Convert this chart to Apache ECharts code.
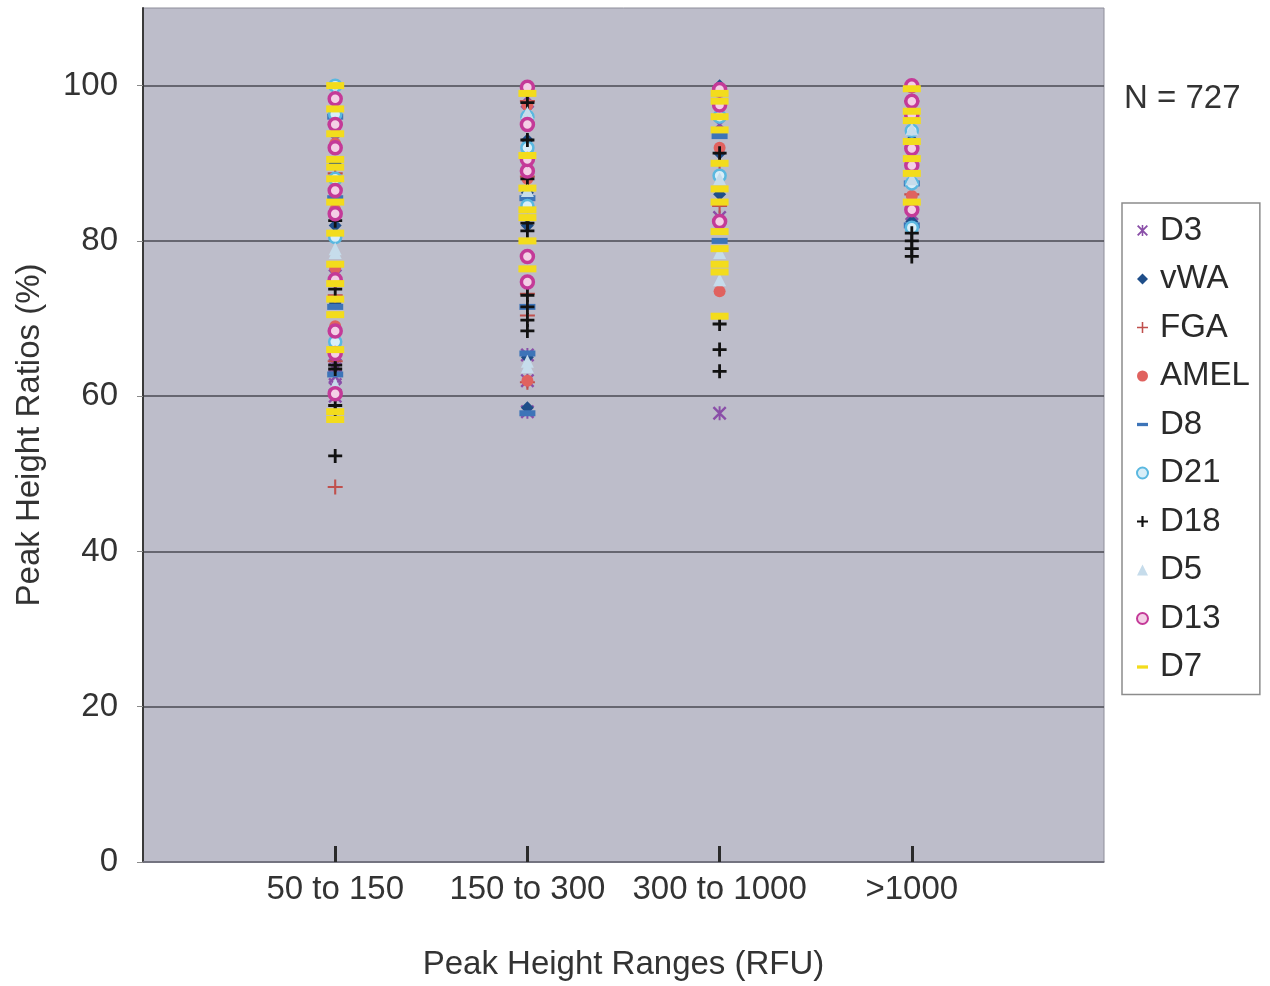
<!DOCTYPE html>
<html>
<head>
<meta charset="utf-8">
<title>Peak Height Ratios by Peak Height Range</title>
<script src="https://cdn.jsdelivr.net/npm/echarts@6/dist/echarts.min.js"></script>
<style>
  html, body { margin: 0; padding: 0; background: #ffffff; }
  #chart { width: 1270px; height: 986px; }
</style>
</head>
<body>
<div id="chart"></div>
<script>
// Peak height range categories (x positions 1..4)
const categories = ['50 to 150', '150 to 300', '300 to 1000', '>1000'];
const yTicks = [0, 20, 40, 60, 80, 100];
const sampleCount = 727;

// Peak height ratios (%) per locus, one list per range
const D3_values = [
  [64, 62.5, 61.5, 61, 60, 63.5, 75.5, 93],
  [58, 62, 65.3, 96.6, 98.5],
  [57.8, 83, 95],
  [83.5, 97.5]
];
const vWA_values = [
  [67, 82, 90, 96, 72],
  [93, 86.2, 65, 58.5, 82],
  [100, 91.3, 86],
  [82.5, 93]
];
const FGA_values = [
  [48.3, 73, 95, 88.7, 64.5],
  [61.8, 73.2, 70.4, 98, 88.3],
  [99, 84.5, 90.2],
  [86, 98]
];
const AMEL_values = [
  [92.5, 69, 84, 76.5],
  [62, 88, 97.5],
  [73.5, 92],
  [100, 85.8]
];
const D8_values = [
  [96, 85.5, 71.5, 62.8],
  [57.8, 85.5, 71.5, 65.5],
  [93.5, 80],
  [87.4, 82]
];
const D21_values = [
  [100, 96.3, 80.5, 67, 88],
  [92, 84.5, 96],
  [88.4, 96],
  [94.2, 87.4, 81.7]
];
const D18_values = [
  [52.3, 58, 63.5, 73.8, 82.6, 58.8, 64],
  [97.8, 93, 88, 81.3, 73, 71.5, 68.4, 69.8, 82.3],
  [91.3, 66, 63.2, 69.3],
  [80, 79, 78, 81]
];
const D5_values = [
  [79, 78.5, 99, 61.5],
  [63.8, 96.5, 86.5, 64.5],
  [75, 88, 78.5],
  [94.4, 88]
];
const D13_values = [
  [98.3, 92, 86.5, 75, 68.4, 60.3, 83.5, 65.5, 95],
  [99.8, 95, 89, 78, 74.7, 90.5],
  [97.5, 82.5, 99.5],
  [100, 98, 91.9, 89.7, 84, 96.2]
];
const D7_values = [
  [100, 97, 93.8, 90.5, 89.5, 85, 81, 77, 72.5, 70.5, 57, 58, 66, 74.5, 88],
  [99, 91, 84, 80, 76.4, 86.8, 83],
  [99, 96, 94.3, 90, 86.7, 81.2, 79, 77, 76, 70.3, 85, 98],
  [99.6, 96.7, 95.5, 90.6, 88.7, 92.8, 85]
];

// Marker shapes
const STAR = 'path://M4.3 0h1.4v10h-1.4z M0 1.2 L1.2 0 L10 8.8 L8.8 10 Z M8.8 0 L10 1.2 L1.2 10 L0 8.8 Z';
const PLUS = 'path://M4.3 0h1.4v4.3h4.3v1.4h-4.3v4.3h-1.4v-4.3h-4.3v-1.4h4.3z';
const PLUS_BOLD = 'path://M4 0h2v4h4v2h-4v4h-2v-4h-4v-2h4z';
const DASH = 'path://M0 0h10v3h-10z';

const FONT = '"Liberation Sans", Arial, sans-serif';
const FONT_SIZE = 33;

function toPoints(values) {
  const pts = [];
  values.forEach(function (list, i) {
    list.forEach(function (v) { pts.push([i + 1, v]); });
  });
  return pts;
}

const seriesDefs = [
  { name: 'D3',   values: D3_values,   symbol: STAR,      size: 14,      style: { color: '#8a4fa8' } },
  { name: 'vWA',  values: vWA_values,  symbol: 'diamond', size: 13,      style: { color: '#1f4e89' } },
  { name: 'FGA',  values: FGA_values,  symbol: PLUS,      size: 15,      style: { color: '#c0504d' } },
  { name: 'AMEL', values: AMEL_values, symbol: 'circle',  size: 12,      style: { color: '#e0625f' } },
  { name: 'D8',   values: D8_values,   symbol: DASH,      size: [16, 6], style: { color: '#3d74b8' } },
  { name: 'D21',  values: D21_values,  symbol: 'circle',  size: 12,      style: { color: '#d8eef8', borderColor: '#5ab8e0', borderWidth: 2.5 } },
  { name: 'D18',  values: D18_values,  symbol: PLUS_BOLD, size: 14,      style: { color: '#111111' } },
  { name: 'D5',   values: D5_values,   symbol: 'triangle',size: 13,      style: { color: '#c6dceb' } },
  { name: 'D13',  values: D13_values,  symbol: 'circle',  size: 12,      style: { color: '#f4d0e6', borderColor: '#c43a98', borderWidth: 3.5 } },
  { name: 'D7',   values: D7_values,   symbol: DASH,      size: [18, 7], style: { color: '#f3dc1c' } }
];

const chart = echarts.init(document.getElementById('chart'), null, { renderer: 'canvas' });

chart.setOption({
  animation: false,
  backgroundColor: '#ffffff',
  textStyle: { fontFamily: FONT },
  grid: {
    left: 143, right: 166, top: 8, bottom: 123,
    show: true,
    backgroundColor: '#bdbdca',
    borderColor: '#8e8e9a',
    borderWidth: 1
  },
  legend: {
    orient: 'vertical',
    left: 1122,
    top: 203,
    itemWidth: 11,
    itemHeight: 11,
    itemGap: 15.5,
    padding: [11, 10, 11, 14],
    backgroundColor: '#ffffff',
    borderColor: '#8c8c8c',
    borderWidth: 1.5,
    selectedMode: false,
    data: seriesDefs.map(function (s) { return s.name; }),
    textStyle: {
      fontFamily: FONT,
      fontSize: FONT_SIZE,
      lineHeight: 33,
      color: '#2a2a2a',
      padding: [0, 0, 0, 7]
    }
  },
  xAxis: {
    type: 'value',
    min: 0,
    max: 5,
    interval: 1,
    name: 'Peak Height Ranges (RFU)',
    nameLocation: 'middle',
    nameGap: 86,
    nameTextStyle: { fontFamily: FONT, fontSize: FONT_SIZE, color: '#333333' },
    axisLine: { show: true, onZero: false, lineStyle: { color: '#7a7a86', width: 1.5 } },
    axisTick: {
      show: true,
      inside: true,
      length: 16,
      customValues: [1, 2, 3, 4],
      lineStyle: { color: '#2a2a2a', width: 3 }
    },
    axisLabel: {
      customValues: [1, 2, 3, 4],
      formatter: function (v) { return categories[v - 1] || ''; },
      fontFamily: FONT,
      fontSize: FONT_SIZE,
      color: '#333333',
      margin: 11
    },
    splitLine: { show: false }
  },
  yAxis: {
    type: 'value',
    min: 0,
    max: 110,
    interval: 20,
    name: 'Peak Height Ratios (%)',
    nameLocation: 'middle',
    nameGap: 97,
    nameTextStyle: { fontFamily: FONT, fontSize: FONT_SIZE, color: '#333333' },
    axisLine: { show: true, onZero: false, lineStyle: { color: '#3a3a3a', width: 2 } },
    axisTick: { show: true, length: 6, customValues: yTicks, lineStyle: { color: '#8a8a8a' } },
    axisLabel: {
      customValues: yTicks,
      formatter: function (v) { return yTicks.indexOf(v) >= 0 ? String(v) : ''; },
      fontFamily: FONT,
      fontSize: FONT_SIZE,
      color: '#333333',
      margin: 25
    },
    splitLine: { show: true, lineStyle: { color: '#4a4a52', width: 1.5 } }
  },
  graphic: [{
    type: 'text',
    left: 1124,
    top: 82,
    style: {
      text: 'N = ' + sampleCount,
      font: FONT_SIZE + 'px ' + FONT,
      fill: '#333333'
    }
  }],
  series: seriesDefs.map(function (s) {
    return {
      type: 'scatter',
      name: s.name,
      data: toPoints(s.values),
      symbol: s.symbol,
      symbolSize: s.size,
      itemStyle: Object.assign({ opacity: 1 }, s.style),
      emphasis: { disabled: true }
    };
  })
});
</script>
</body>
</html>
